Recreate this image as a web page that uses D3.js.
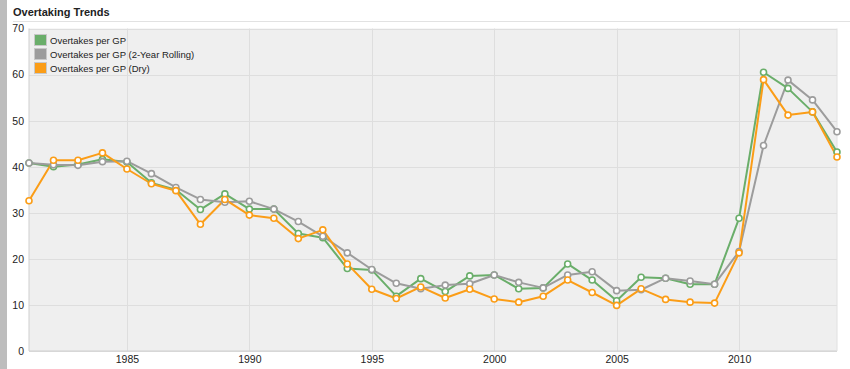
<!DOCTYPE html>
<html>
<head>
<meta charset="utf-8">
<script src="https://cdnjs.cloudflare.com/ajax/libs/d3/7.8.5/d3.min.js"></script>
<style>
  body { margin: 0; background: #fff; font-family: "Liberation Sans", Arial, sans-serif; }
  #chart { width: 850px; height: 369px; }
</style>
</head>
<body>
<div id="chart"></div>
<script>
// data
const years = d3.range(1981, 2015)
const overtakes = [40.8, 40.0, 40.5, 41.6, 41.0, 36.5, 35.0, 30.7, 34.1, 30.8,
  30.8, 25.5, 24.6, 17.9, 17.6, 11.9, 15.7, 12.9, 16.3, 16.5,
  13.5, 13.7, 18.9, 15.4, 10.9, 16.0, 15.8, 14.5, 14.5, 28.8,
  60.5, 57.0, 51.9, 43.2]
const rolling = [40.8, 40.4, 40.3, 41.1, 41.2, 38.5, 35.5, 32.9, 32.3, 32.5,
  30.8, 28.1, 24.9, 21.3, 17.7, 14.7, 13.5, 14.3, 14.6, 16.5,
  14.9, 13.7, 16.5, 17.2, 13.1, 13.3, 15.8, 15.2, 14.5, 21.6,
  44.6, 58.8, 54.5, 47.6]
const dry = [32.6, 41.4, 41.4, 43.0, 39.5, 36.3, 34.8, 27.5, 32.9, 29.5,
  28.8, 24.4, 26.3, 18.9, 13.4, 11.4, 13.9, 11.5, 13.4, 11.3,
  10.6, 11.9, 15.4, 12.7, 9.9, 13.5, 11.2, 10.6, 10.4, 21.3,
  58.9, 51.2, 51.9, 42.1]
const seriesNames = ["Overtakes per GP", "Overtakes per GP (2-Year Rolling)", "Overtakes per GP (Dry)"]
const seriesColors = ["#6aae6a", "#9c9c9c", "#fb9d17"]
const xTicks = [1985, 1990, 1995, 2000, 2005, 2010]
const yTicks = [0, 10, 20, 30, 40, 50, 60, 70]

let W = 850, H = 369
let margin = {top: 28.5, right: 13, bottom: 18, left: 29}

let svg = d3.select("#chart").append("svg")
    .attr("width", W).attr("height", H)

// grey strip down the left side
svg.append("rect").attr("x", 0).attr("y", 0).attr("width", 7).attr("height", H).attr("fill", "#bdbdbd")

svg.append("text")
    .attr("x", 13).attr("y", 16)
    .style("font-size", "11px").style("font-weight", "bold").style("fill", "#222")
    .text("Overtaking Trends")
svg.append("line")
    .attr("x1", 13).attr("x2", W).attr("y1", 21.5).attr("y2", 21.5)
    .attr("stroke", "#e2e2e2")

let x = d3.scaleLinear().domain([1981, 2014]).range([margin.left, W - margin.right])
let y = d3.scaleLinear().domain([0, 70]).range([H - margin.bottom, margin.top])

svg.append("rect")
    .attr("x", x(1981)).attr("y", y(70))
    .attr("width", x(2014) - x(1981)).attr("height", y(0) - y(70))
    .attr("fill", "#efefef")

// grid
svg.append("g").selectAll("line").data(yTicks).enter().append("line")
    .attr("x1", x(1981)).attr("x2", x(2014))
    .attr("y1", d => Math.round(y(d)) + 0.5).attr("y2", d => Math.round(y(d)) + 0.5)
    .attr("stroke", "#dedede")
svg.append("g").selectAll("line").data(xTicks).enter().append("line")
    .attr("y1", y(0)).attr("y2", y(70))
    .attr("x1", d => Math.round(x(d)) + 0.5).attr("x2", d => Math.round(x(d)) + 0.5)
    .attr("stroke", "#dedede")

// frame: left, bottom and right edges
svg.append("line").attr("x1", x(1981)).attr("x2", x(1981)).attr("y1", y(70)).attr("y2", y(0)).attr("stroke", "#cfcfcf")
svg.append("line").attr("x1", x(1981)).attr("x2", x(2014)).attr("y1", y(0)).attr("y2", y(0)).attr("stroke", "#cfcfcf")
svg.append("line").attr("x1", x(2014)).attr("x2", x(2014)).attr("y1", y(70)).attr("y2", y(0)).attr("stroke", "#e0e0e0")

// axes labels
let yAxis = svg.append("g")
    .attr("transform", `translate(${x(1981)},0)`)
    .call(d3.axisLeft(y).tickValues(yTicks).tickSize(0).tickPadding(5))
yAxis.select(".domain").remove()
yAxis.selectAll("text").style("font-size", "10.5px").style("fill", "#222").style("font-family", "Liberation Sans, Arial")

let xAxis = svg.append("g")
    .attr("transform", `translate(0,${y(0)})`)
    .call(d3.axisBottom(x).tickValues(xTicks).tickFormat(d3.format("d")).tickSize(0).tickPadding(5))
xAxis.select(".domain").remove()
xAxis.selectAll("text").style("font-size", "10.5px").style("fill", "#222").style("font-family", "Liberation Sans, Arial")

// lines + points
let allSeries = [overtakes, rolling, dry]
let line = d3.line().x((d, i) => x(years[i])).y(d => y(d))

allSeries.forEach((s, k) => {
    svg.append("path")
        .datum(s)
        .attr("d", line)
        .attr("fill", "none")
        .attr("stroke", seriesColors[k])
        .attr("stroke-width", 2)
        .attr("stroke-linejoin", "round")
})
allSeries.forEach((s, k) => {
    svg.append("g").selectAll("circle").data(s).enter().append("circle")
        .attr("cx", (d, i) => x(years[i]))
        .attr("cy", d => y(d))
        .attr("r", 3)
        .attr("fill", "#fff")
        .attr("stroke", seriesColors[k])
        .attr("stroke-width", 1.6)
})

// legend
let legend = svg.append("g").selectAll("g").data(seriesNames).enter().append("g")
    .attr("transform", (d, i) => `translate(34,${34 + i * 14})`)
legend.append("rect")
    .attr("x", 0.5).attr("y", 0.5).attr("width", 12).attr("height", 11)
    .attr("fill", (d, i) => seriesColors[i])
    .attr("stroke", "#c8c8c8")
legend.append("text")
    .attr("x", 16).attr("y", 9.5)
    .style("font-size", "9.5px").style("fill", "#222")
    .text(d => d)
</script>
</body>
</html>
